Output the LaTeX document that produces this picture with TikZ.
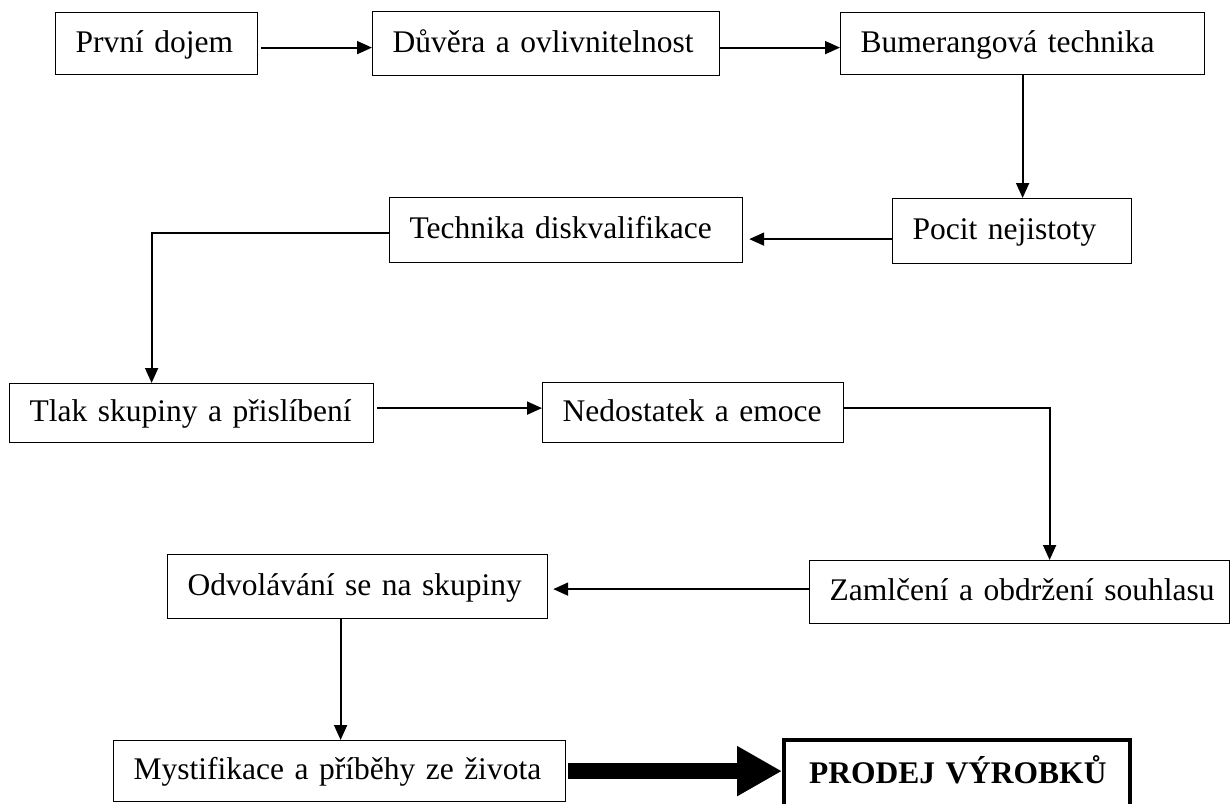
\documentclass[tikz,border=0pt]{standalone}
\usepackage{fontspec}
\setmainfont{Liberation Serif}
\usetikzlibrary{arrows.meta}
\tikzset{
    stage-box/.style = {draw=black, line width=1.2pt, rectangle, anchor=north west, inner xsep=20pt, align=left, text height=24pt, text depth=7pt, minimum height=62pt, font=\fontsize{31.5}{38}\selectfont, execute at begin node=\leavevmode\hbox\bgroup, execute at end node=\egroup},
    final-box/.style = {stage-box, line width=4pt, inner xsep=25pt, minimum height=70pt, font=\fontsize{31.5}{38}\selectfont\bfseries},
    flow-arrow/.style = {line width=1.8pt, -{Triangle[length=15pt,width=13pt]}},
    big-arrow/.style = {line width=16pt, -{Triangle[length=45pt,width=47pt]}},
}

\begin{document}
\begin{tikzpicture}[x=1pt, y=-1pt]
\useasboundingbox (0,0) rectangle (1231,803);
% stages of the sales talk
\node [stage-box, text width=162pt] (prvni) at (55,12) {První dojem};
\node [stage-box, text width=307pt, minimum height=64pt] (duvera) at (372,11) {Důvěra a ovlivnitelnost};
\node [stage-box, text width=324pt] (bumerang) at (840,12) {Bumerangová technika};
\node [stage-box, text width=199pt, minimum height=65pt] (pocit) at (892,198) {Pocit nejistoty};
\node [stage-box, text width=313pt, minimum height=65pt] (diskval) at (389,197) {Technika diskvalifikace};
\node [stage-box, text width=324pt, minimum height=59pt] (tlak) at (9,383) {Tlak skupiny a přislíbení};
\node [stage-box, text width=261pt, minimum height=60pt] (nedostatek) at (542,382) {Nedostatek a emoce};
\node [stage-box, text width=380pt, minimum height=63pt] (zamlceni) at (809,560) {Zamlčení a obdržení souhlasu};
\node [stage-box, text width=340pt, minimum height=64pt] (odvolavani) at (167,554) {Odvolávání se na skupiny};
\node [stage-box, text width=412pt, minimum height=61pt] (mystifikace) at (113,740) {Mystifikace a příběhy ze života};
\node [final-box, text width=296pt] (prodej) at (782,738) {PRODEJ VÝROBKŮ};

% connectors
\draw [flow-arrow, shorten <=3pt] ([yshift=-4pt]prvni.east) -- ([yshift=-4pt]prvni.east -| duvera.west);
\draw [flow-arrow] ([yshift=-4pt]duvera.east) -- ([yshift=-4pt]duvera.east -| bumerang.west);
\draw [flow-arrow] (bumerang.south) -- (bumerang.south |- pocit.north);
\draw [flow-arrow, shorten >=6pt] ([yshift=-8pt]pocit.west) -- ([yshift=-8pt]pocit.west -| diskval.east);
\draw [flow-arrow] ([yshift=-3pt]diskval.west) -| ([xshift=-40pt]tlak.north);
\draw [flow-arrow, shorten <=3pt] ([yshift=5pt]tlak.east) -- ([yshift=5pt]tlak.east -| nedostatek.west);
\draw [flow-arrow] ([yshift=5pt]nedostatek.east) -| ([xshift=30pt]zamlceni.north);
\draw [flow-arrow, shorten >=5pt] ([yshift=3pt]zamlceni.west) -- ([yshift=3pt]zamlceni.west -| odvolavani.east);
\draw [flow-arrow] ([xshift=-17pt]odvolavani.south) -- ([xshift=-17pt]odvolavani.south |- mystifikace.north);
\draw [big-arrow, shorten <=2pt] (mystifikace.east) -- (mystifikace.east -| prodej.west);
\end{tikzpicture}
\end{document}
